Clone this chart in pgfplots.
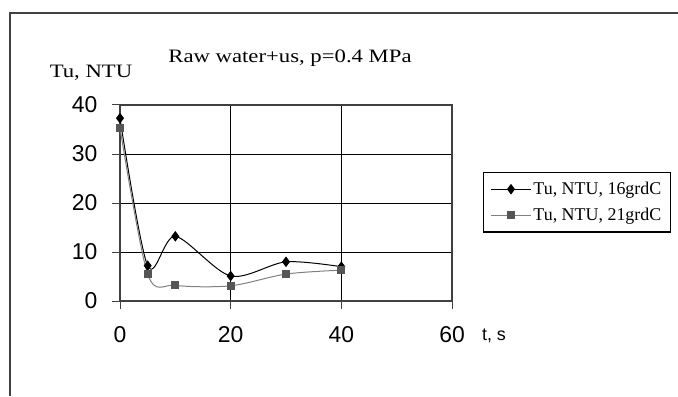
\documentclass[border=0pt]{standalone}
\usepackage{pgfplots}
\pgfplotsset{compat=1.18}
\usepackage{fontspec}
\setmainfont{Liberation Serif}
\newfontfamily\tickfont{Liberation Sans}
\newfontfamily\titlefont[FakeStretch=1.2]{Liberation Serif}
\definecolor{sgray}{RGB}{128,128,128}
\definecolor{mgray}{RGB}{85,85,85}
\definecolor{axgray}{RGB}{64,64,64}
\begin{document}
\begin{tikzpicture}[x=1bp,y=1bp]
\useasboundingbox (0,0) rectangle (678,396);
\draw[line width=1.6bp, axgray] (10,0) -- (10,383) -- (678,383);
\begin{axis}[
  at={(120bp,95bp)}, anchor=south west,
  width=332bp, height=196bp, scale only axis,
  xmin=0, xmax=60, ymin=0, ymax=40,
  xtick={0,20,40,60}, ytick={0,10,20,30,40},
  grid=major, major grid style={black, line width=0.8bp},
  axis line style={axgray, line width=1.2bp},
  tick align=outside, tick pos=left, major tick length=8bp,
  tick style={axgray, line width=1bp},
  ticklabel style={font=\tickfont\fontsize{23}{23}\selectfont},
  xticklabel style={yshift=-14bp},
  yticklabel style={xshift=-11bp},
  /pgf/number format/assume math mode=true,
  legend style={at={(1.093,0.660)}, anchor=north west, draw=black, line width=1.2bp,
    font=\fontsize{18}{20}\selectfont, inner xsep=7bp, inner ysep=8bp, row sep=8bp,
    cells={anchor=west}},
  legend image code/.code={\draw[#1, mark repeat=2, mark phase=2] plot coordinates {(0bp,0bp) (20bp,0bp) (40bp,0bp)};},
]
\addplot[black, line width=1bp, smooth, mark=diamond*, mark size=4.5bp, mark options={solid, fill=black}]
  coordinates {(0,37.3) (5,7.2) (10,13.2) (20,5.1) (30,8.0) (40,7.0)};
\addlegendentry{Tu, NTU, 16grdC}
\addplot[sgray, line width=1bp, smooth, mark=square*, mark size=3.5bp, mark options={solid, draw=mgray, fill=mgray}]
  coordinates {(0,35.3) (5,5.5) (10,3.2) (20,3.1) (30,5.5) (40,6.3)};
\addlegendentry{Tu, NTU, 21grdC}
\end{axis}
\node[font=\titlefont\fontsize{19}{19}\selectfont] at (290,338) {Raw water+us, p=0.4 MPa};
\node[font=\titlefont\fontsize{19}{19}\selectfont] at (91,323) {Tu, NTU};
\node[font=\tickfont\fontsize{18}{18}\selectfont] at (494,60) {t, s};
\end{tikzpicture}
\end{document}
